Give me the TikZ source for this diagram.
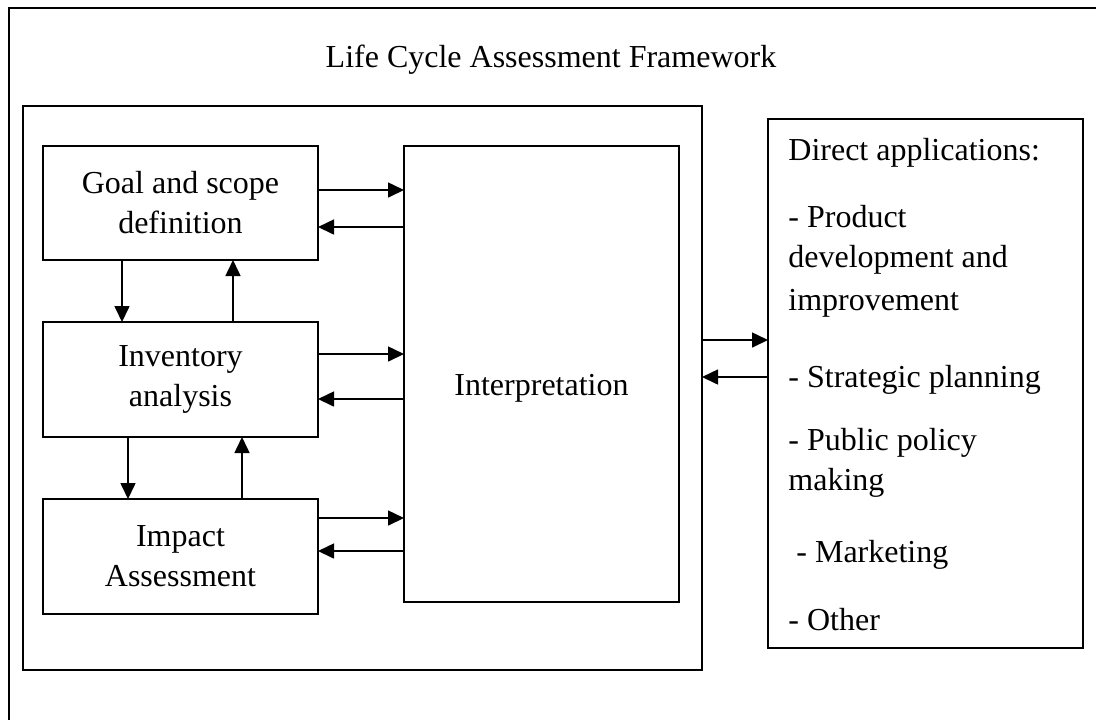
\documentclass[tikz,border=0pt]{standalone}
\usepackage{fontspec}
\setmainfont{Liberation Serif}
\usetikzlibrary{arrows.meta}

\tikzset{
    stage/.style={draw, line width=0.8pt, inner sep=0pt, outer sep=0pt, align=center},
    link/.style={-{Triangle[length=8pt,width=7.5pt]}, line width=0.8pt},
}

\begin{document}
\begin{tikzpicture}[x=0.5pt, y=-0.5pt, font=\fontsize{16}{20}\selectfont]
    \useasboundingbox (0,0) rectangle (1096,720);

    \draw[line width=0.8pt] (1096,8) -- (9,8) -- (9,720);
    \node[anchor=base] (title) at (551,67) {Life Cycle Assessment Framework};

    \node[stage, minimum width=339.5pt, minimum height=282pt] (frame) at (362.5,388) {};

    \node[stage, minimum width=137.5pt, minimum height=57pt] (goal) at (180.5,203) {Goal and scope\\definition};
    \node[stage, minimum width=137.5pt, minimum height=57.5pt] (inventory) at (180.5,379.5) {Inventory\\analysis};
    \node[stage, minimum width=137.5pt, minimum height=57.5pt] (impact) at (180.5,556.5) {Impact\\Assessment};
    \node[stage, minimum width=137.5pt, minimum height=228pt,
        label={[name=interptext, yshift=-7pt]center:Interpretation}] (interp) at (541.5,374) {};

    \node[stage, minimum width=157.5pt, minimum height=264.5pt] (apps) at (925.5,383.5) {};
    \foreach \y/\t [count=\i] in {160/{Direct applications:}, 227/{- Product}, 267/{development and}, 310/{improvement}, 387/{- Strategic planning}, 450/{- Public policy}, 490/{making}, 562/{\ - Marketing}, 630/{- Other}}
        \node[anchor=base west, inner sep=0pt] (app\i) at (788,\y) {\t};

    \draw[link] (goal.east |- 0,190) -- (interp.west |- 0,190);
    \draw[link] (interp.west |- 0,227) -- (goal.east |- 0,227);
    \draw[link] (inventory.east |- 0,354) -- (interp.west |- 0,354);
    \draw[link] (interp.west |- 0,399) -- (inventory.east |- 0,399);
    \draw[link] (impact.east |- 0,518) -- (interp.west |- 0,518);
    \draw[link] (interp.west |- 0,551) -- (impact.east |- 0,551);

    \draw[link] (goal.south -| 122,0) -- (inventory.north -| 122,0);
    \draw[link] (inventory.north -| 233,0) -- (goal.south -| 233,0);
    \draw[link] (inventory.south -| 128,0) -- (impact.north -| 128,0);
    \draw[link] (impact.north -| 242,0) -- (inventory.south -| 242,0);

    \draw[link] (frame.east |- 0,340) -- (apps.west |- 0,340);
    \draw[link] (apps.west |- 0,377) -- (frame.east |- 0,377);
\end{tikzpicture}
\end{document}
